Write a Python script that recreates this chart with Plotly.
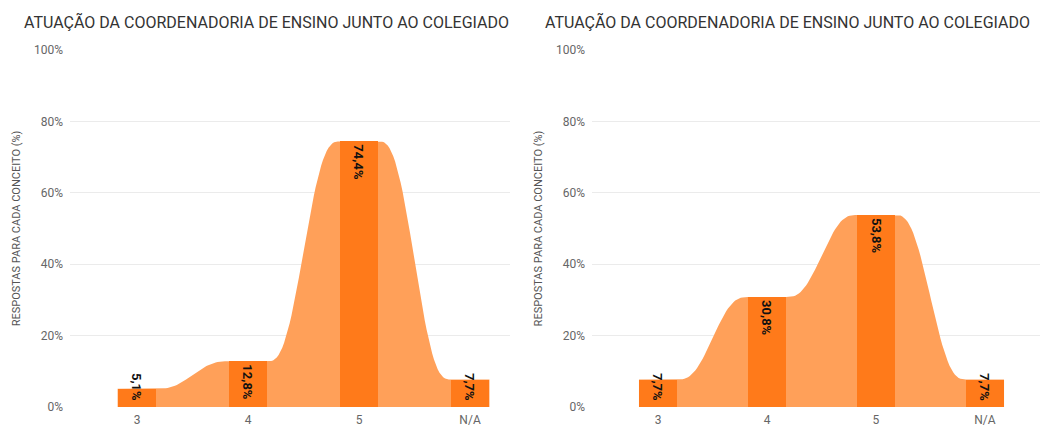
import numpy as np
import plotly.graph_objects as go

categories = ["3", "4", "5", "N/A"]
values_left = [5.1, 12.8, 74.4, 7.7]
values_right = [7.7, 30.8, 53.8, 7.7]
titles = ["ATUAÇÃO DA COORDENADORIA DE ENSINO JUNTO AO COLEGIADO",
          "ATUAÇÃO DA COORDENADORIA DE ENSINO JUNTO AO COLEGIADO"]
y_title = "RESPOSTAS PARA CADA CONCEITO (%)"
y_ticks = [0, 20, 40, 60, 80, 100]
y_ticktext = ["0%", "20%", "40%", "60%", "80%", "100%"]

W, H = 1052, 426
BAR_W = 0.35
BAR_COLOR = "#FF7A1A"
AREA_COLOR = "#FFA059"
FONT = "Roboto"


def smooth_area(vals, w):
    xs, ys = [], []
    n = len(vals)
    for i, v in enumerate(vals):
        xs += [i - w / 2, i + w / 2]
        ys += [v, v]
        if i < n - 1:
            x0, x1 = i + w / 2, i + 1 - w / 2
            t = np.linspace(0, 1, 40)[1:-1]
            s = t * t * t * (t * (t * 6 - 15) + 10)
            xs += list(x0 + (x1 - x0) * t)
            ys += list(v + (vals[i + 1] - v) * s)
    return xs, ys


fig = go.Figure()
panels = [
    (values_left, ("x", "y"), ("x3", "y3"), [70 / W, 510 / W], [-0.604, 3.36]),
    (values_right, ("x2", "y2"), ("x4", "y4"), [592 / W, 1040 / W], [-0.606, 3.505]),
]
xpos = list(range(len(categories)))
ydom = [19 / H, 376 / H]
layout_axes = {}
for k, (vals, (xa, ya), (xb, yb), dom, rng) in enumerate(panels):
    ax, ay = smooth_area(vals, BAR_W)
    fig.add_trace(go.Scatter(x=ax + [ax[-1], ax[0]], y=ay + [0, 0], fill="toself",
                             fillcolor=AREA_COLOR, line=dict(width=0), mode="lines",
                             xaxis=xa, yaxis=ya, hoverinfo="skip", showlegend=False))
    fig.add_trace(go.Bar(x=xpos, y=vals, width=BAR_W, marker=dict(color=BAR_COLOR, line=dict(width=0)),
                         xaxis=xb, yaxis=yb, showlegend=False))
    for i, v in enumerate(vals):
        label = f"{v:.1f}%".replace(".", ",")
        common = dict(xref=xb, yref=yb, text=f"<b>{label}</b>", textangle=90, showarrow=False,
                      font=dict(family=FONT, size=13, color="#111"))
        if v < 12:
            fig.add_annotation(x=i, y=0, yanchor="bottom", yshift=4, **common)
        else:
            fig.add_annotation(x=i, y=v, yanchor="top", yshift=-1, **common)
    axis_x = dict(domain=dom, range=rng, tickmode="array", tickvals=xpos, ticktext=categories,
                  showgrid=False, zeroline=False, showline=False, automargin=False,
                  ticklabelstandoff=4,
                  tickfont=dict(family=FONT, size=12, color="#666"), anchor=ya)
    axis_y = dict(domain=ydom, range=[0, 100], tickmode="array", tickvals=y_ticks, ticktext=y_ticktext,
                  showgrid=True, gridcolor="#EBEBEB", gridwidth=1, zeroline=False, automargin=False,
                  tickfont=dict(family=FONT, size=12, color="#666"), anchor=xa, ticklabelstandoff=6,
                  title=dict(text=y_title, font=dict(family=FONT, size=11, color="#555"), standoff=11))
    axis_xb = dict(domain=dom, range=rng, overlaying=xa, visible=False, anchor=yb, automargin=False)
    axis_yb = dict(domain=ydom, range=[0, 100], overlaying=ya, visible=False, anchor=xb, automargin=False)
    n1 = "" if k == 0 else "2"
    n2 = "3" if k == 0 else "4"
    layout_axes["xaxis" + n1] = axis_x
    layout_axes["yaxis" + n1] = axis_y
    layout_axes["xaxis" + n2] = axis_xb
    layout_axes["yaxis" + n2] = axis_yb

fig.update_layout(**layout_axes)

for t, xp in zip(titles, [22, 543]):
    fig.add_annotation(x=xp / W, y=1 - 22 / H, xref="paper", yref="paper", text=t, showarrow=False,
                       xanchor="left", yanchor="middle",
                       font=dict(family=FONT, size=16, color="#333"))

fig.update_layout(width=W, height=H, margin=dict(l=0, r=0, t=0, b=0),
                  paper_bgcolor="white", plot_bgcolor="white", bargap=0)
fig.write_html("out.html", config={"displayModeBar": False},
               post_script="document.body.style.margin='0';document.body.style.overflow='hidden';")
